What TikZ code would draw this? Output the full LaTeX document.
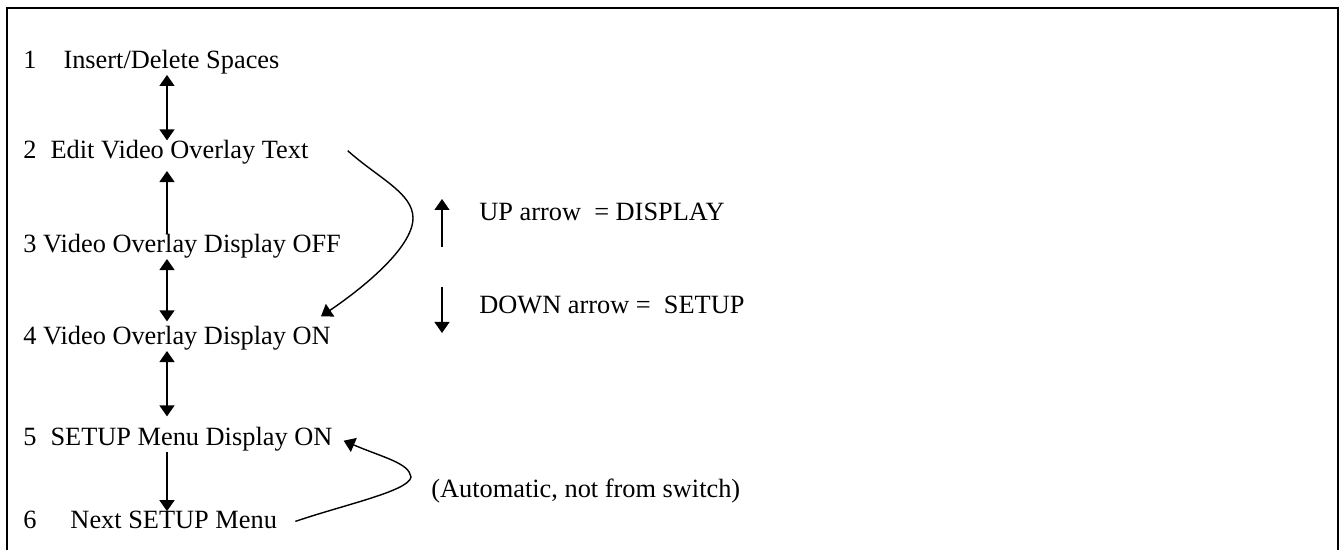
\documentclass[tikz,border=0pt]{standalone}
\usepackage{fontspec}
\setmainfont{Liberation Serif}
\usetikzlibrary{arrows.meta}

\tikzset{
    item/.style={anchor=base west, inner sep=0pt, font=\fontsize{15pt}{18pt}\selectfont},
    vlink/.style={line width=0.8pt, >={Triangle[length=0.22cm,width=0.3cm]}},
    keyarrow/.style={vlink, line width=0.6pt},
    frame/.style={line width=1.6pt}
}

\begin{document}
\begin{tikzpicture}[x=0.02cm, y=0.02cm]
    \useasboundingbox (0,0) rectangle (1340,-550);
    \draw[frame] (7,-550) -- (7,-8) -- (1338,-8) -- (1338,-550);

    % menu states
    \node[item] (i1) at (23,-69) {1\hspace{0.54cm}Insert/Delete Spaces};
    \node[item] (i2) at (23,-159) {2\hspace{0.28cm}Edit Video Overlay Text};
    \node[item] (i3) at (23,-253) {3 Video Overlay Display OFF};
    \node[item] (i4) at (23,-345) {4 Video Overlay Display ON};
    \node[item] (i5) at (23,-446) {5\hspace{0.28cm}SETUP Menu Display ON};
    \node[item] (i6) at (23,-529) {6\hspace{0.68cm}Next SETUP Menu};

    % key
    \node[item] (up) at (479,-221) {UP arrow~ = DISPLAY};
    \node[item] (down) at (479,-314) {DOWN arrow = ~SETUP};
    \node[item] (auto) at (431,-498) {(Automatic, not from switch)};
    \draw[keyarrow,->] (442,-247) -- (442,-199);
    \draw[keyarrow,->] (442,-287) -- (442,-333);

    % switch steps
    \coordinate (col) at (167,0);
    \draw[vlink,<->] (i1.south -| col) -- (i2.north -| col);
    \draw[vlink,<-, shorten <=0.12cm] (i2.south -| col) -- (i3.north -| col);
    \draw[vlink,<->, shorten >=0.1cm] (i3.south -| col) -- (i4.north -| col);
    \draw[vlink,<->, shorten >=0.22cm] (i4.south -| col) -- (i5.north -| col);
    \draw[vlink,->] (i5.south -| col) -- (i6.north -| col);

    % jumps
    \coordinate (b1) at (413,-218);
    \coordinate (b2) at (411,-477);
    \draw[vlink,->] ([shift={(39,2)}]i2.east) .. controls +(30,-27) and +(0,25) .. (b1)
        .. controls +(0,-30) and +(40,27) .. ([shift={(-10,10)}]i4.north east);
    \draw[vlink,->] ([shift={(18,-1)}]i6.east) .. controls +(50,17) and +(-2,-14) .. (b2)
        .. controls +(-2,14) and +(40,-17) .. ([shift={(11,-1)}]i5.east);
\end{tikzpicture}
\end{document}
